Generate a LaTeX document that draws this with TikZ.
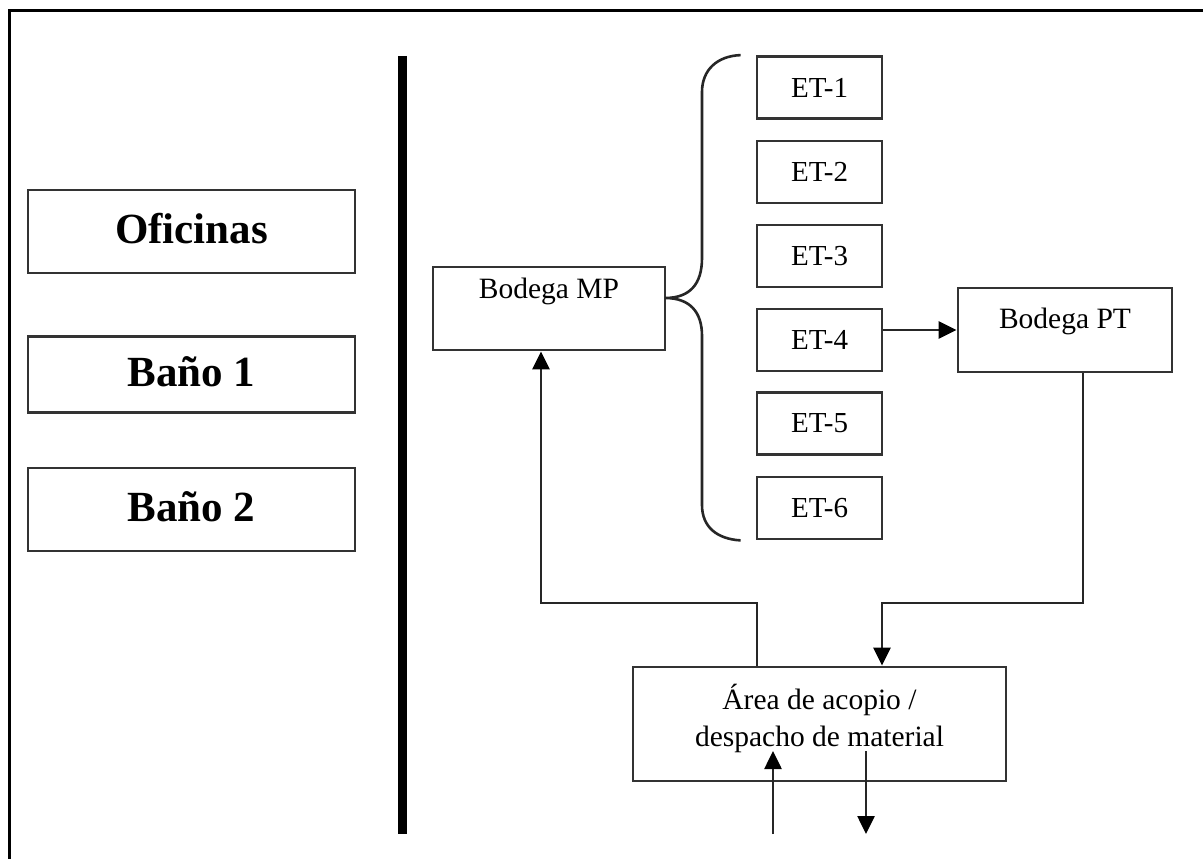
\documentclass[tikz,border=0pt]{standalone}
\usepackage{fontspec}
\setmainfont{Liberation Serif}
\usetikzlibrary{arrows.meta}
\begin{document}
\begin{tikzpicture}[x=1pt,y=-1pt,
  box/.style={draw=black!80, line width=2.8pt, inner sep=0pt},
  roombox/.style={box, minimum width=327, minimum height=83},
  etbox/.style={box, minimum width=125, minimum height=62, font=\fontsize{29}{34}\selectfont},
  roomtext/.style={anchor=base, font=\fontsize{43}{50}\selectfont\bfseries},
  label/.style={font=\fontsize{29.5}{37}\selectfont},
  link/.style={draw=black!85, line width=2.6pt},
  arr/.style={link, -{Triangle[length=18pt,width=17pt,color=black]}}
]
\useasboundingbox (0,0) rectangle (1203,859);
\fill[white] (0,0) rectangle (1203,859);

% frame and dividing bar
\draw[line width=3pt] (9,859) -- (9,11) -- (1203,11);
\draw[line width=9pt] (402,56) -- (402,834);

% rooms on the left
\node[roombox] (ofi) at (191.5,231.5) {};
\node[roomtext] at ([yshift=-11.5pt]ofi.center) {Oficinas};
\node[roombox, minimum height=76] (b1) at (191.5,374.5) {};
\node[roomtext] at ([yshift=-11.5pt]b1.center) {Baño 1};
\node[roombox] (b2) at (191.5,509.5) {};
\node[roomtext] at ([yshift=-11.5pt]b2.center) {Baño 2};

% raw material store
\node[box, minimum width=232, minimum height=83] (mp) at (549,308.5) {};
\node[label, anchor=base] at ([yshift=10pt]mp.center) {Bodega MP};

% work stations
\node[etbox] (et1) at (819.5,87.5) {ET-1};
\node[etbox] (et2) at (819.5,172) {ET-2};
\node[etbox] (et3) at (819.5,256) {ET-3};
\node[etbox] (et4) at (819.5,340) {ET-4};
\node[etbox] (et5) at (819.5,423.5) {ET-5};
\node[etbox] (et6) at (819.5,508) {ET-6};

% finished product store
\node[box, minimum width=214, minimum height=84] (pt) at (1065,330) {};
\node[label, anchor=base] at ([yshift=2pt]pt.center) {Bodega PT};

% collection / dispatch area
\node[box, minimum width=373, minimum height=114] (area) at (819.5,724) {};
\node[label, align=center] at ([yshift=6pt]area.center) {Área de acopio /\\despacho de material};

% brace from Bodega MP to the stations
\coordinate (tip) at (665,298);
\draw[link] ([xshift=-15pt]et1.north west)
  .. controls (717,56) and (702,70) .. (702,92) -- (702,258)
  .. controls (702,284) and (690,298) .. (tip)
  .. controls (690,298) and (702,312) .. (702,336) -- (702,505)
  .. controls (702,527) and (717,539) .. ([xshift=-15pt]et6.south west);

% flows
\draw[arr] (et4.east |- pt.west) -- (pt.west);
\coordinate (j1) at (541,603);
\coordinate (j2) at (882,603);
\draw[arr] ([xshift=-62.5pt]area.north) |- (j1) -- (j1 |- mp.south);
\draw[arr] ([xshift=18pt]pt.south) |- (j2) -- (j2 |- area.north);
\coordinate (inlow) at (773,834);
\coordinate (inhigh) at (773,751);
\coordinate (outhigh) at (866,751);
\coordinate (outlow) at (866,834);
\draw[arr] (inlow) -- (inhigh);
\draw[arr] (outhigh) -- (outlow);
\end{tikzpicture}
\end{document}
